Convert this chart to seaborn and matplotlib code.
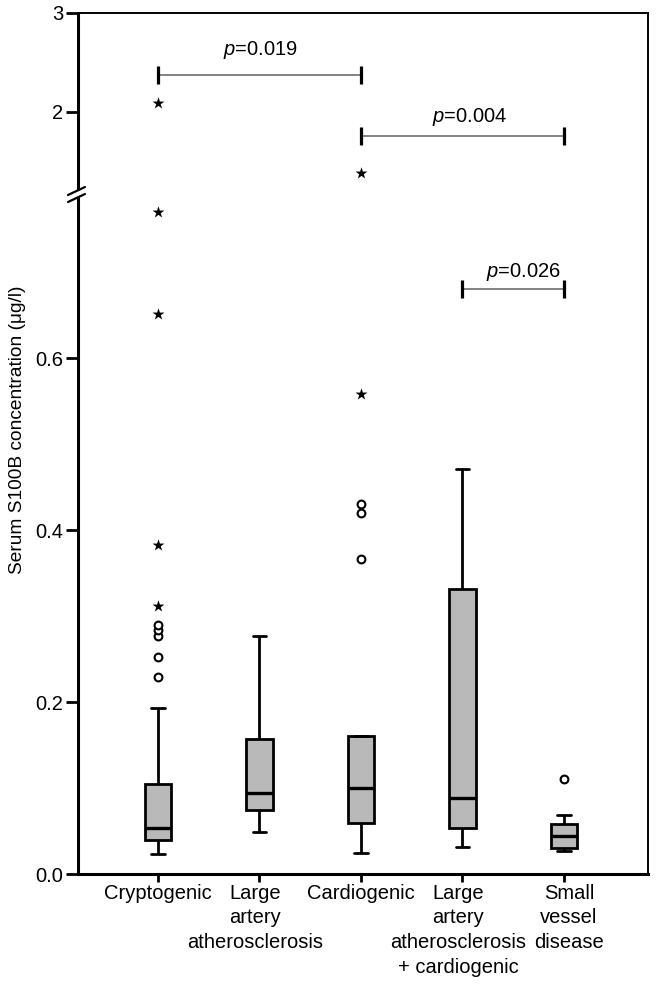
import numpy as np
import pandas as pd
import seaborn as sns
import matplotlib.pyplot as plt
import matplotlib.transforms as mtransforms
from matplotlib.lines import Line2D
from matplotlib.patches import Polygon

# groups (x axis)
categories = ["Cryptogenic", "LAA", "Cardiogenic", "LAA+C", "SVD"]
tick_labels = [
    "Cryptogenic",
    "Large\nartery\natherosclerosis",
    "Cardiogenic",
    "Large\nartery\natherosclerosis\n+ cardiogenic",
    "Small\nvessel\ndisease",
]

# five-number summaries: low whisker, Q1, median, Q3, high whisker
crypt_box = [0.023, 0.039, 0.054, 0.105, 0.193]
laa_box = [0.0485, 0.0744, 0.0946, 0.157, 0.277]
cardio_box = [0.025, 0.059, 0.0996, 0.160, 0.160]
laa_cardio_box = [0.0318, 0.053, 0.088, 0.331, 0.4717]
svd_box = [0.0267, 0.030, 0.0446, 0.058, 0.069]

# outliers: circles (mild) and stars (extreme)
crypt_circles = [0.229, 0.252, 0.277, 0.284, 0.290]
cardio_circles = [0.366, 0.420, 0.431]
svd_circles = [0.110]
crypt_stars = [0.312, 0.383, 0.652, 0.770, 2.09]
cardio_stars = [0.559, 1.384]

# significance brackets: (from group, to group, height, label)
brackets = [
    ("Cryptogenic", "Cardiogenic", 2.374, "0.019"),
    ("Cardiogenic", "SVD", 1.758, "0.004"),
    ("LAA+C", "SVD", 0.681, "0.026"),
]
p_text_pos = [(1.005, 2.576), (3.07, 1.899), (3.6, 0.694)]

box_df = pd.DataFrame({
    "group": np.repeat(categories, 5),
    "value": np.concatenate([crypt_box, laa_box, cardio_box, laa_cardio_box, svd_box]),
})
circ_df = pd.DataFrame({
    "group": ["Cryptogenic"] * len(crypt_circles) + ["Cardiogenic"] * len(cardio_circles)
    + ["SVD"] * len(svd_circles),
    "value": crypt_circles + cardio_circles + svd_circles,
})
star_df = pd.DataFrame({
    "group": ["Cryptogenic"] * len(crypt_stars) + ["Cardiogenic"] * len(cardio_stars),
    "value": crypt_stars + cardio_stars,
})

sns.set_theme(style="ticks")
plt.rcParams["font.family"] = ["Liberation Sans", "DejaVu Sans"]
plt.rcParams["mathtext.fontset"] = "custom"
plt.rcParams["mathtext.it"] = "Liberation Sans:italic"
plt.rcParams["mathtext.rm"] = "Liberation Sans"
plt.rcParams["text.color"] = "black"
plt.rcParams["axes.labelcolor"] = "black"

FS = 14.5

# broken y axis: 0..0.79 linear, jump, 1.162..3 compressed
LO, HI, GAP = 0.79, 1.162, 1e-4
K = 99 / 860


def fwd(y):
    y = np.asarray(y, dtype=float)
    return np.where(y <= LO, y,
                    np.where(y >= HI, LO + GAP + (y - HI) * K,
                             LO + (y - LO) * GAP / (HI - LO)))


def inv(t):
    t = np.asarray(t, dtype=float)
    return np.where(t <= LO, t,
                    np.where(t >= LO + GAP, HI + (t - LO - GAP) / K,
                             LO + (t - LO) * (HI - LO) / GAP))


fig = plt.figure(figsize=(6.57, 9.86), dpi=100)
ax = fig.add_axes([78 / 657, 1 - 874 / 986, 570 / 657, 861 / 986])
ax.set_yscale("function", functions=(fwd, inv))

sns.boxplot(data=box_df, x="group", y="value", order=categories, whis=(0, 100),
            showfliers=False, width=0.26, color="#b9b9b9", linecolor="black",
            linewidth=2, medianprops={"linewidth": 2.4}, ax=ax)
sns.stripplot(data=circ_df, x="group", y="value", order=categories, jitter=False,
              marker="o", color="white", edgecolor="black", linewidth=1.5, size=5.6, ax=ax)
sns.stripplot(data=star_df, x="group", y="value", order=categories, jitter=False,
              marker="*", color="black", size=9, ax=ax)

for (a, b, h, lab), (tx, ty) in zip(brackets, p_text_pos):
    xa, xb = categories.index(a), categories.index(b)
    ax.plot([xa, xb], [h, h], color="#7a7a7a", lw=1.3, solid_capstyle="butt")
    ax.plot([xa, xb], [h, h], ls="none", marker="|", markersize=13, mew=2.3, color="black")
    ax.text(tx, ty, r"$\it{p}$=" + lab, ha="center", va="baseline", fontsize=FS,
            color="black")

ax.set_xlim(-0.788, 4.828)
ax.set_ylim(0, 3)
ax.set_yticks([0, 0.2, 0.4, 0.6, 2, 3])
ax.set_yticklabels(["0.0", "0.2", "0.4", "0.6", "2", "3"])
ax.set_xticks(range(len(categories)))
ax.set_xticklabels(tick_labels, linespacing=1.38)
ax.minorticks_off()
ax.set_xlabel("")
ax.set_ylabel("Serum S100B concentration (μg/l)", fontsize=13.8)
ax.yaxis.set_label_coords(-0.091, 0.516)

ax.tick_params(axis="y", length=9, width=2, pad=1.5, labelsize=FS, colors="black")
ax.tick_params(axis="x", length=6, width=2, pad=1, labelsize=FS, colors="black")

# nudge some category labels sideways, as in the original layout
label_shift_px = [0, -4, 0, -4, 5]
for lbl, dx in zip(ax.get_xticklabels(), label_shift_px):
    lbl.set_transform(lbl.get_transform()
                      + mtransforms.ScaledTranslation(dx / 100, 0, fig.dpi_scale_trans))

for side in ["left", "bottom"]:
    ax.spines[side].set_linewidth(2.2)
for side in ["top", "right"]:
    ax.spines[side].set_linewidth(1.4)
    ax.spines[side].set_visible(True)
for s in ax.spines.values():
    s.set_color("black")

# break mark on the left spine
def fp(px, py):
    return (px / 657, 1 - py / 986)

gap_poly = Polygon([fp(68, 195.5), fp(85, 187.5), fp(85, 194.5), fp(68, 202.5)],
                   closed=True, transform=fig.transFigure, facecolor="white",
                   edgecolor="none", zorder=10)
fig.patches.append(gap_poly)
for dy in (0, 7):
    x0, y0 = fp(68, 195 + dy)
    x1, y1 = fp(85, 187 + dy)
    fig.lines.append(Line2D([x0, x1], [y0, y1], transform=fig.transFigure,
                            color="black", lw=1.6, zorder=11))

fig.savefig("out.png", dpi=100)
